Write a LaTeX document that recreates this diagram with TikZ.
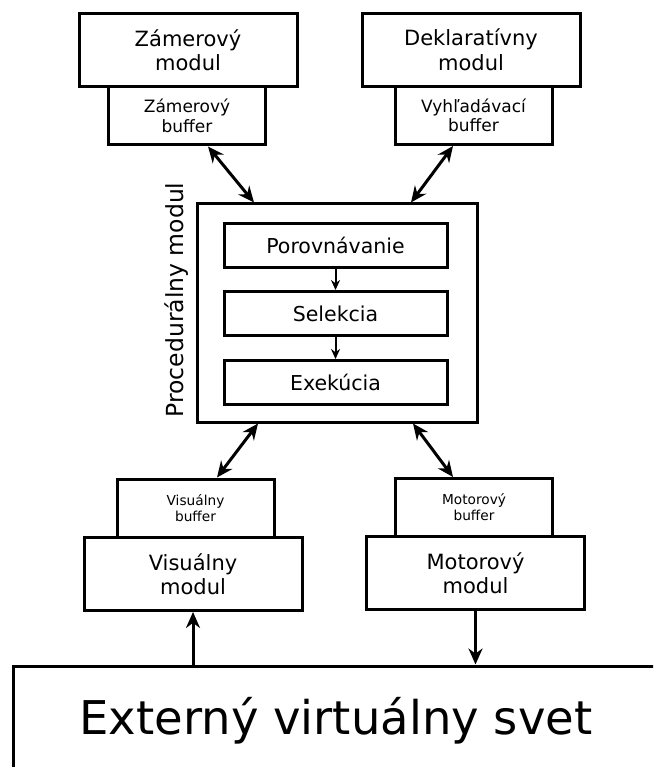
\documentclass[tikz,border=0pt]{standalone}
\usepackage{fontspec}
\setmainfont{DejaVu Sans}
\usetikzlibrary{arrows.meta}
\tikzset{
  box/.style={draw, line width=3pt, align=center, inner sep=0pt},
  modul/.style={box, minimum width=218pt, minimum height=73pt, font=\fontsize{21}{24.5}\selectfont},
  bufvelky/.style={box, minimum width=157pt, minimum height=58pt, font=\fontsize{17}{19.5}\selectfont},
  bufmaly/.style={box, minimum width=157pt, minimum height=58pt, font=\fontsize{13.7}{16}\selectfont},
  stepbox/.style={box, minimum width=223pt, minimum height=44pt, font=\fontsize{20.5}{24}\selectfont},
  hrot/.style={-{Stealth[length=16pt,width=14pt]}, line width=3pt},
  dvojhrot/.style={{Stealth[length=16pt,width=14pt]}-{Stealth[length=16pt,width=14pt]}, line width=3pt},
  malyhrot/.style={-{Stealth[length=10pt,width=9pt]}, line width=2pt}
}
\newcommand{\modnode}[3] {\node at (#1) (#2) [modul] {#3};}
\newcommand{\bufnode}[4] {\node at (#1) (#2) [#3] {#4};}
\newcommand{\kroknode}[3] {\node at (#1) (#2) [stepbox] {#3};}
\newcommand{\obojsmer}[2] {\draw [dvojhrot] (#1) -- (#2);}
\newcommand{\smer}[2] {\draw [hrot] (#1) -- (#2);}

\begin{document}
\begin{tikzpicture}[x=1pt, y=-1pt]
\useasboundingbox (0,0) rectangle (653,767);
\clip (0,0) rectangle (653,767);

\modnode {188,50.5} {zmod} {Zámerový\\modul}
\bufnode {187,116} {zbuf} {bufvelky} {Zámerový\\buffer}
\modnode {471,50} {dmod} {Deklaratívny\\modul}
\bufnode {473.5,115.5} {vbuf} {bufvelky} {Vyhľadávací\\buffer}

\node at (337,313) (proc) [box, minimum width=280pt, minimum height=218pt] {};
\node at (177,300) (proclab) [rotate=90, font=\fontsize{23.5}{26}\selectfont] {Procedurálny modul};
\kroknode {335.5,245} {porov} {Porovnávanie}
\kroknode {335.5,313.5} {sel} {Selekcia}
\kroknode {335.5,382.5} {exe} {Exekúcia}

\bufnode {195.5,508} {visbuf} {bufmaly} {Visuálny\\buffer}
\modnode {193,574} {vismod} {Visuálny\\modul}
\bufnode {474,507.5} {motbuf} {bufmaly} {Motorový\\buffer}
\modnode {475.5,573} {motmod} {Motorový\\modul}

\node at (336,721) (ext) [box, minimum width=646pt, minimum height=110pt, font=\fontsize{46.5}{50}\selectfont] {Externý virtuálny svet};

\draw [malyhrot] (porov) -- (sel);
\draw [malyhrot] (sel) -- (exe);

\obojsmer{[xshift=21pt]zbuf.south}{[xshift=-83pt]proc.north}
\obojsmer{[xshift=-20.5pt]vbuf.south}{[xshift=74pt]proc.north}
\obojsmer{[xshift=-79pt]proc.south}{[xshift=21.5pt]visbuf.north}
\obojsmer{[xshift=76pt]proc.south}{[xshift=-21pt]motbuf.north}

\smer{vismod.south |- ext.north}{vismod.south}
\smer{motmod.south}{motmod.south |- ext.north}

\end{tikzpicture}
\end{document}
